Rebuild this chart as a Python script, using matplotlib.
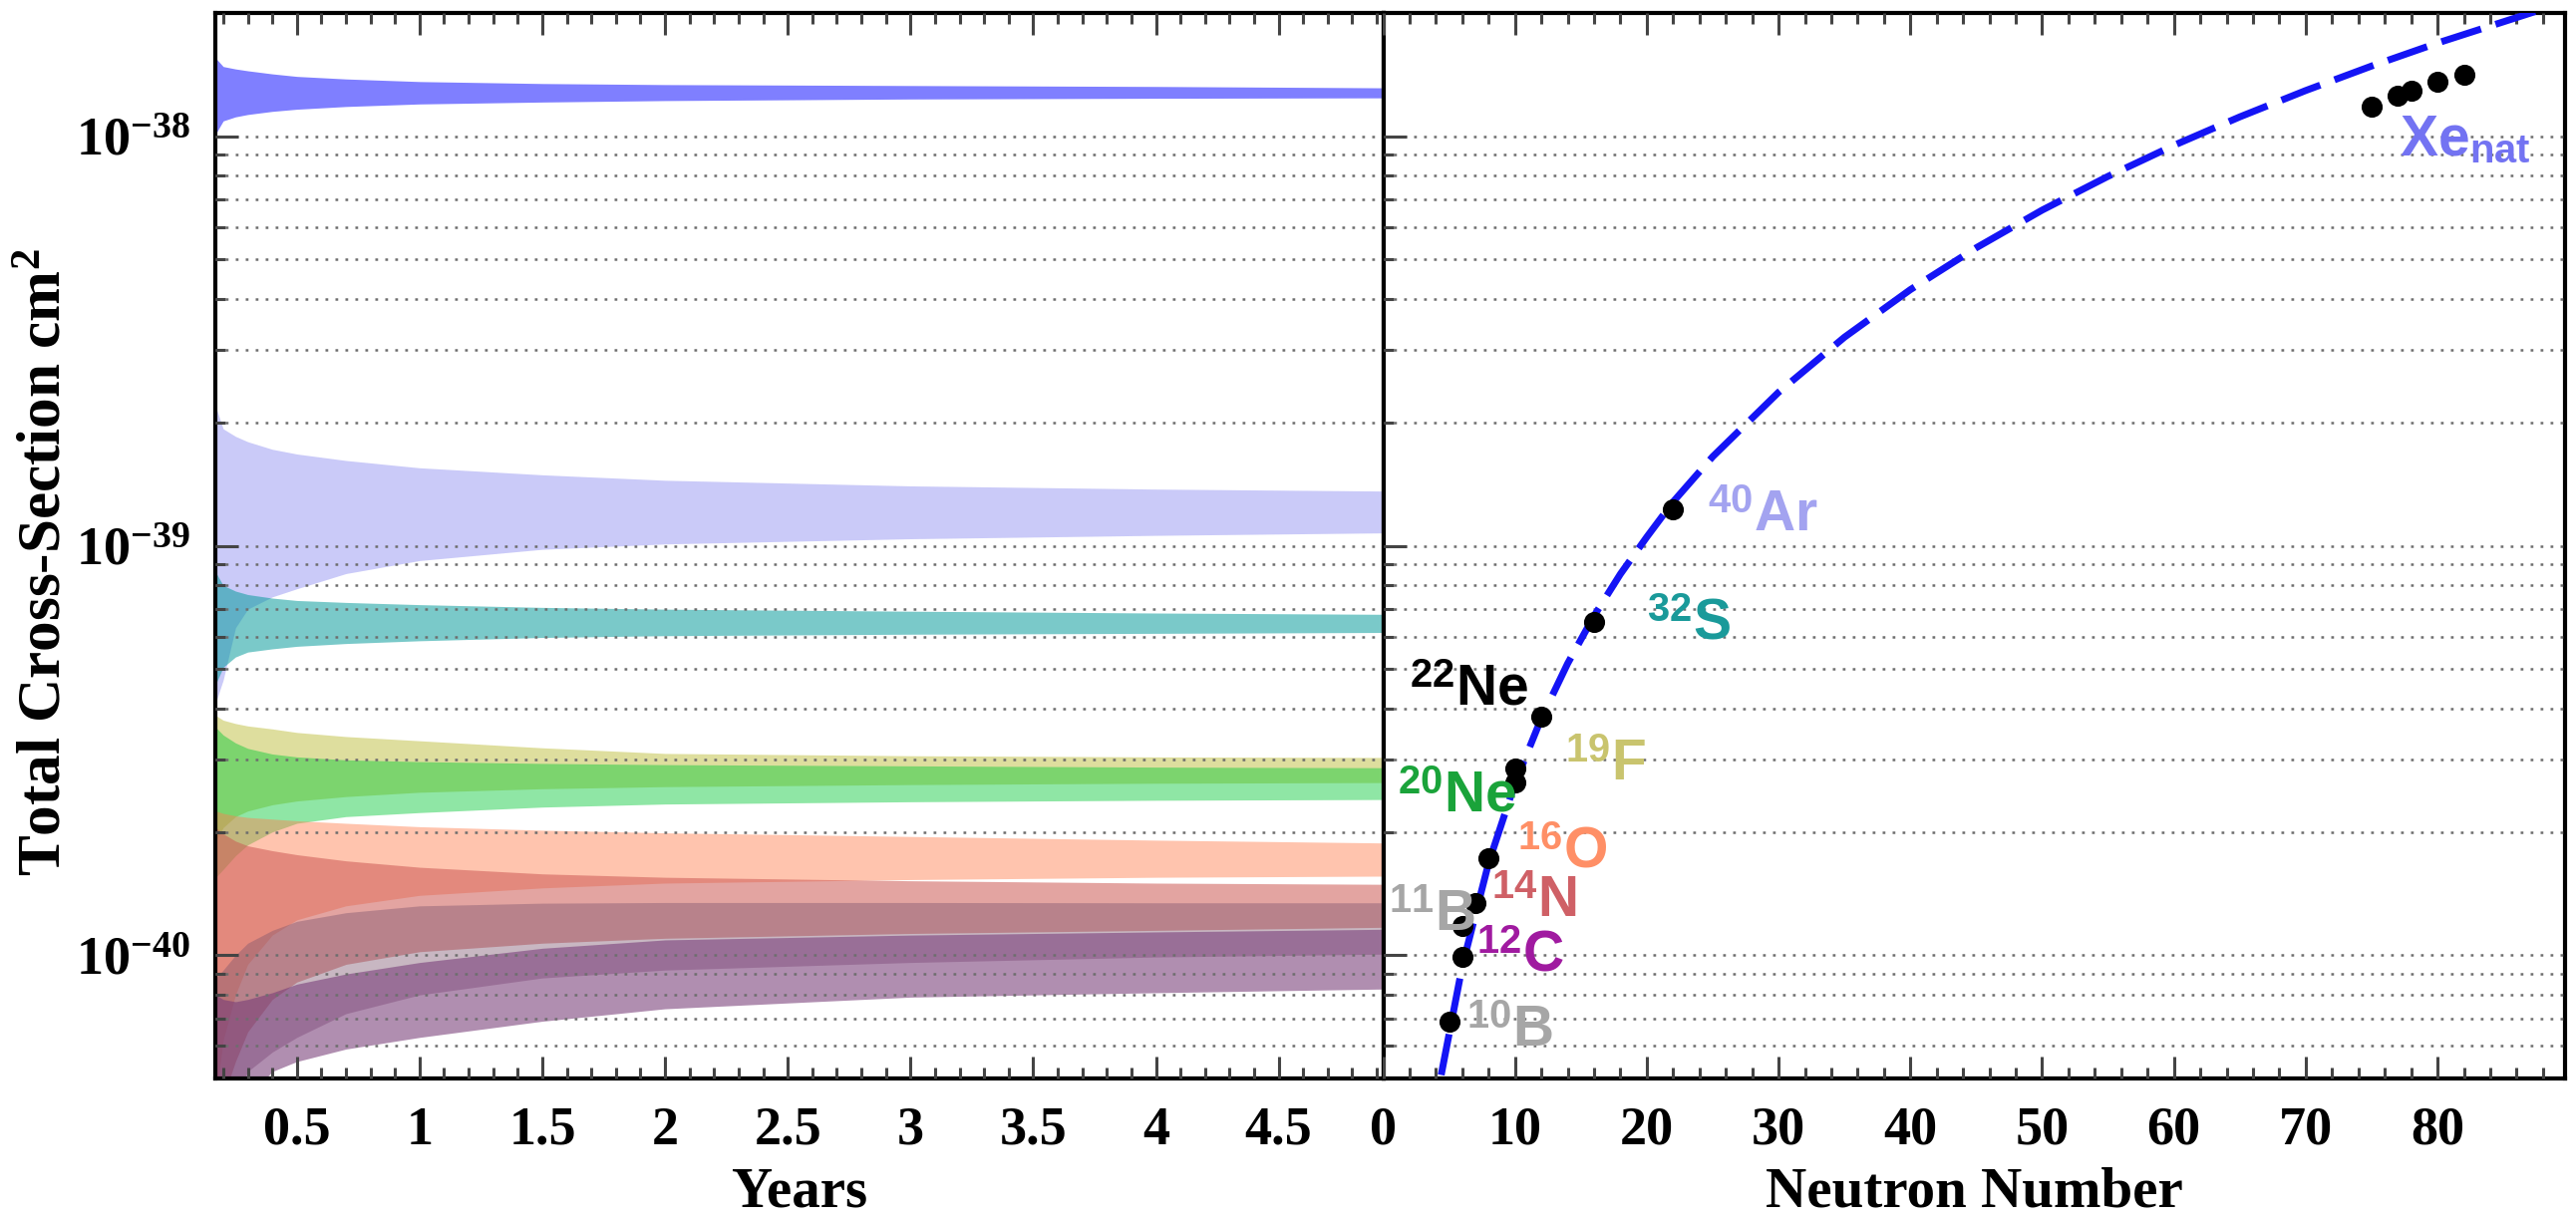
import numpy as np
import matplotlib
matplotlib.use("Agg")
import matplotlib.pyplot as plt
from matplotlib.ticker import MultipleLocator, FixedLocator, NullFormatter, FuncFormatter

plt.rcParams['mathtext.fontset'] = 'custom'
plt.rcParams['mathtext.rm'] = 'Liberation Serif:bold'
plt.rcParams['mathtext.bf'] = 'Liberation Serif:bold'
plt.rcParams['mathtext.it'] = 'Liberation Serif:bold:italic'
plt.rcParams['mathtext.sf'] = 'Liberation Sans:bold'
plt.rcParams['font.family'] = ['Liberation Serif', 'DejaVu Serif']
plt.rcParams['font.weight'] = 'bold'

UNIT = 1e-40  # all cross-section values below are in units of 1e-40 cm^2

# ---------------- left panel: cross-section bands vs. exposure time ----------------
years = [0.17, 0.2, 0.25, 0.3, 0.4, 0.5, 0.7, 1.0, 1.5, 2.0, 3.0, 4.0, 4.93]

xe_hi = [155, 148, 146, 144.5, 142, 140, 138, 136, 134.5, 133.7, 133, 132.3, 131.3]
xe_lo = [101.5, 109, 111.5, 113, 115, 116.4, 118.2, 119.9, 121.2, 122.2, 123.3, 123.8, 124.1]
ar_hi = [21.8, 19.3, 18.5, 17.95, 17.2, 16.75, 16.15, 15.5, 14.9, 14.45, 14.0, 13.75, 13.6]
ar_lo = [4.15, 4.7, 6.3, 7.0, 7.5, 7.85, 8.55, 9.2, 9.8, 10.1, 10.4, 10.6, 10.75]
s_hi = [8.6, 8.0, 7.75, 7.6, 7.45, 7.35, 7.27, 7.18, 7.07, 7.0, 6.92, 6.85, 6.80]
s_lo = [4.6, 5.05, 5.35, 5.5, 5.6, 5.68, 5.77, 5.86, 5.97, 6.03, 6.08, 6.11, 6.14]
f_hi = [3.85, 3.75, 3.68, 3.63, 3.57, 3.50, 3.42, 3.34, 3.21, 3.11, 3.07, 3.05, 3.04]
f_lo = [1.9, 2.05, 2.18, 2.25, 2.33, 2.38, 2.44, 2.50, 2.55, 2.58, 2.61, 2.63, 2.64]
ne_hi = [3.6, 3.45, 3.3, 3.2, 3.1, 3.05, 3.0, 2.97, 2.94, 2.92, 2.90, 2.88, 2.87]
ne_lo = [1.55, 1.62, 1.75, 1.86, 2.0, 2.1, 2.18, 2.23, 2.3, 2.34, 2.37, 2.39, 2.40]
o_hi = [2.25, 2.22, 2.19, 2.17, 2.15, 2.13, 2.10, 2.06, 2.02, 1.99, 1.95, 1.91, 1.88]
o_lo = [0.45, 0.62, 0.80, 0.95, 1.12, 1.22, 1.32, 1.40, 1.46, 1.50, 1.53, 1.55, 1.56]
n_hi = [2.05, 1.98, 1.90, 1.85, 1.80, 1.76, 1.70, 1.64, 1.58, 1.55, 1.52, 1.50, 1.49]
n_lo = [0.45, 0.45, 0.55, 0.65, 0.78, 0.86, 0.95, 1.02, 1.07, 1.10, 1.13, 1.15, 1.17]
b11_hi = [0.88, 0.92, 1.00, 1.07, 1.15, 1.21, 1.27, 1.32, 1.34, 1.345, 1.345, 1.343, 1.343]
b11_lo = [0.45, 0.45, 0.45, 0.52, 0.58, 0.63, 0.72, 0.80, 0.88, 0.92, 0.96, 0.99, 1.006]
c_hi = [0.80, 0.78, 0.77, 0.78, 0.81, 0.85, 0.90, 0.96, 1.04, 1.09, 1.12, 1.14, 1.157]
c_lo = [0.45, 0.45, 0.45, 0.45, 0.52, 0.55, 0.59, 0.63, 0.69, 0.74, 0.79, 0.81, 0.827]

bands = [
    (xe_lo, xe_hi, '#0000ff', 0.50),
    (ar_lo, ar_hi, '#1010e0', 0.22),
    (s_lo, s_hi, '#009999', 0.52),
    (f_lo, f_hi, '#cccc66', 0.63),
    (ne_lo, ne_hi, '#00c832', 0.44),
    (o_lo, o_hi, '#ff8050', 0.46),
    (n_lo, n_hi, '#cc5a55', 0.55),
    (b11_lo, b11_hi, '#7d556e', 0.42),
    (c_lo, c_hi, '#783c78', 0.58),
]

# ---------------- right panel: cross-section vs. neutron number ----------------
neutrons = [5, 6, 6, 7, 8, 10, 10, 12, 16, 22, 75, 77, 78, 80, 82]
xsec = [0.689, 1.178, 0.989, 1.338, 1.722, 2.86, 2.646, 3.824, 6.496, 12.24,
        118.4, 125.7, 129.3, 135.5, 141.5]

fit_n = [4.4, 6, 8, 10, 12, 14, 16, 18, 20, 22, 25, 30, 35, 40, 45, 50, 55, 60, 65,
         70, 75, 80, 87.5]
fit_xsec = [0.51, 0.94, 1.68, 2.63, 3.79, 5.16, 6.74, 8.53, 10.5, 12.8, 16.5, 23.7, 32.3,
            42.2, 53.4, 66.0, 79.8, 95.0, 111.5, 129.3, 148.4, 168.9, 202]

labels = [r'$\mathsf{Xe}_{\mathsf{nat}}$', r'$^{\mathsf{40}}\mathsf{Ar}$', r'$^{\mathsf{32}}\mathsf{S}$',
          r'$^{\mathsf{22}}\mathsf{Ne}$', r'$^{\mathsf{19}}\mathsf{F}$', r'$^{\mathsf{20}}\mathsf{Ne}$',
          r'$^{\mathsf{16}}\mathsf{O}$', r'$^{\mathsf{14}}\mathsf{N}$', r'$^{\mathsf{11}}\mathsf{B}$',
          r'$^{\mathsf{12}}\mathsf{C}$', r'$^{\mathsf{10}}\mathsf{B}$']
label_n = [77.1, 24.6, 20.0, 2.0, 13.8, 1.06, 10.2, 8.2, 0.44, 7.07, 6.33]
label_xsec = [89.4, 10.82, 5.91, 4.09, 2.675, 2.236, 1.636, 1.237, 1.144, 0.915, 0.598]
label_colors = ['#7373f2', '#a3a3f0', '#1a9a9a', '#000000', '#c9c46e', '#1aa33a',
                '#ff8f66', '#cf6066', '#a6a6a6', '#a01aa0', '#a6a6a6']

y_major = [1e-40, 1e-39, 1e-38]
y_minor = [m * 10.0 ** e for e in (-41, -40, -39) for m in range(2, 10)
           if 5e-41 < m * 10.0 ** e < 2e-38]

# ---------------- figure ----------------
W, H = 2584, 1226
fig = plt.figure(figsize=(W / 200, H / 200), dpi=200)
x0, xm, x1 = 216 / W, 1387.5 / W, 2573.3 / W
yb, yt = 1 - 1082 / H, 1 - 13 / H
ax1 = fig.add_axes([x0, yb, xm - x0, yt - yb])
ax2 = fig.add_axes([xm, yb, x1 - xm, yt - yb], sharey=ax1)

t = np.array(years)
for lo, hi, col, a in bands:
    ax1.fill_between(t, np.array(lo) * UNIT, np.array(hi) * UNIT, color=col, alpha=a,
                     linewidth=0, zorder=1)

ax2.plot(np.array(fit_n), np.array(fit_xsec) * UNIT, color='#1414f5', lw=2.5,
         dashes=(6.0, 2.2), zorder=3, dash_capstyle='butt')
ax2.plot(neutrons, np.array(xsec) * UNIT, 'o', color='black', ms=6.6, zorder=4)
for lab, n, v, c in zip(labels, label_n, label_xsec, label_colors):
    ax2.text(n, v * UNIT, lab, color=c, fontsize=20.5, ha='left', va='baseline', zorder=5)

ax1.set_yscale('log')
ax1.set_ylim(5e-41, 2e-38)
ax1.set_xlim(0.168, 4.926)
ax2.set_xlim(0, 89.7)

ax1.yaxis.set_major_locator(FixedLocator(y_major))
ax1.yaxis.set_minor_locator(FixedLocator(y_minor))
ax1.yaxis.set_major_formatter(FuncFormatter(lambda v, p: r'$\mathrm{10^{%d}}$' % round(np.log10(v))))
ax1.yaxis.set_minor_formatter(NullFormatter())

ax1.xaxis.set_major_locator(MultipleLocator(0.5))
ax1.xaxis.set_minor_locator(MultipleLocator(0.1))
ax1.xaxis.set_major_formatter(FuncFormatter(lambda v, p: ('%g' % v)))
ax2.xaxis.set_major_locator(MultipleLocator(10))
ax2.xaxis.set_minor_locator(MultipleLocator(2))

tick_col = '#444444'
for ax in (ax1, ax2):
    for s in ax.spines.values():
        s.set_linewidth(1.5)
    ax.set_axisbelow(False)
    ax.yaxis.grid(True, which='both', linestyle=(0, (1.1, 2.9)), color='#6e6e6e', linewidth=0.9)
    ax.xaxis.grid(False)
    ax.tick_params(axis='x', which='major', direction='in', length=8, width=1.1, color=tick_col,
                   top=True, bottom=True, labelsize=19.5, pad=10)
    ax.tick_params(axis='x', which='minor', direction='in', length=4, width=1.1, color=tick_col,
                   top=True, bottom=True)
    ax.tick_params(axis='y', which='major', direction='in', length=8.3, width=1.1, color=tick_col,
                   left=True, right=False, labelsize=19.5, pad=9)
    ax.tick_params(axis='y', which='minor', direction='in', length=3.6, width=1.1, color=tick_col,
                   left=True, right=False)
ax2.tick_params(axis='y', which='both', labelleft=False)

ax1.set_xlabel('Years', fontsize=20.5, fontweight='bold', labelpad=4)
ax2.set_xlabel('Neutron Number', fontsize=20.5, fontweight='bold', labelpad=4)
ax1.set_ylabel(r'Total Cross-Section cm$^\mathrm{2}$', fontsize=22, fontweight='bold')
ax1.yaxis.set_label_coords(-0.122, 0.484)

fig.savefig('out.png', dpi=200)
